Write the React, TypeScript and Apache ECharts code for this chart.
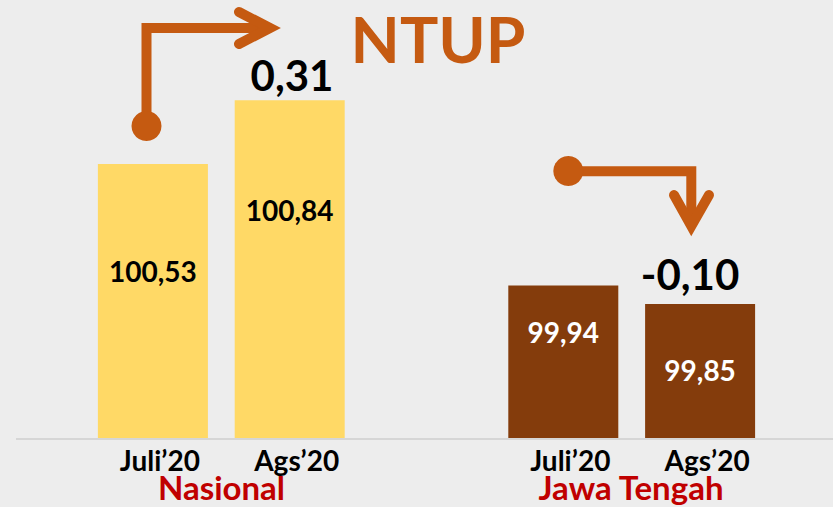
import React, { useEffect, useRef } from "react";
import * as echarts from "echarts";

const categories = ["Juli’20", "Ags’20", "", "Juli’20", "Ags’20"];
const nasional = [100.53, 100.84, "-", "-", "-"];
const jawaTengah = ["-", "-", "-", 99.94, 99.85];
const groupNames = ["Nasional", "Jawa Tengah"];
const changes = [0.31, -0.1];
const title = "NTUP";

const fmt = (v: number, d = 2) => v.toFixed(d).replace(".", ",");

const ORANGE = "#C55A11";
const FONT = "Lato, 'Open Sans', sans-serif";

export default function App() {
  const ref = useRef<HTMLDivElement>(null);
  useEffect(() => {
    if (!ref.current) return;
    const chart = echarts.init(ref.current, undefined, { renderer: "svg" });
    const labelOffsets = [107, 110, 0, 46, 66];
    const mkData = (arr: any[], color: string) =>
      arr.map((v, i) =>
        v === "-"
          ? "-"
          : {
              value: v,
              label: {
                show: true,
                position: ["50%", labelOffsets[i]],
                align: "center",
                verticalAlign: "middle",
                formatter: (p: any) => fmt(p.value),
                color,
                fontSize: 28,
                fontWeight: "bold",
                fontFamily: FONT,
              },
            }
      );
    const option: any = {
      animation: false,
      backgroundColor: "#EDEDED",
      grid: { left: 84.5, right: 64.5, top: 26, bottom: 69 },
      xAxis: {
        type: "category",
        data: categories,
        axisLine: { show: false },
        axisTick: { show: false },
        axisLabel: {
          interval: 0,
          color: "#000",
          fontSize: 28,
          fontWeight: "bold",
          fontFamily: FONT,
          margin: 11,
          lineHeight: 22,
          padding: [0, 0, 0, 14],
        },
      },
      yAxis: {
        type: "value",
        min: 99.2,
        max: 101.2,
        show: false,
        splitLine: { show: false },
      },
      series: [
        {
          type: "bar",
          name: groupNames[0],
          data: mkData(nasional, "#000"),
          barWidth: 110,
          barGap: "-100%",
          itemStyle: { color: "#FFD966" },
        },
        {
          type: "bar",
          name: groupNames[1],
          data: mkData(jawaTengah, "#FFFFFF"),
          barWidth: 110,
          barGap: "-100%",
          itemStyle: { color: "#843C0C" },
        },
      ],
      graphic: [
        {
          type: "line",
          shape: { x1: 16, y1: 439, x2: 833, y2: 439 },
          style: { stroke: "#D6D6D6", lineWidth: 2 },
        },
        {
          type: "text",
          x: 221.5,
          y: 487,
          style: {
            text: groupNames[0],
            fill: "#C00000",
            font: `bold 33px ${FONT}`,
            textAlign: "center",
            textVerticalAlign: "middle",
          },
        },
        {
          type: "text",
          x: 631,
          y: 487,
          style: {
            text: groupNames[1],
            fill: "#C00000",
            font: `bold 33px ${FONT}`,
            textAlign: "center",
            textVerticalAlign: "middle",
          },
        },
        {
          type: "text",
          x: 292,
          y: 75,
          style: {
            text: fmt(changes[0]),
            fill: "#000",
            font: `bold 42px ${FONT}`,
            textAlign: "center",
            textVerticalAlign: "middle",
          },
        },
        {
          type: "text",
          x: 690,
          y: 274,
          style: {
            text: fmt(changes[1]),
            fill: "#000",
            font: `bold 42px ${FONT}`,
            textAlign: "center",
            textVerticalAlign: "middle",
          },
        },
        {
          type: "text",
          x: 438,
          y: 38,
          style: {
            text: title,
            fill: ORANGE,
            font: `bold 64px ${FONT}`,
            textAlign: "center",
            textVerticalAlign: "middle",
          },
        },
        // Arrow up-right (Nasional)
        {
          type: "polyline",
          shape: { points: [[146.5, 126], [146.5, 28], [268, 28]] },
          style: { stroke: ORANGE, lineWidth: 10, fill: "none", lineJoin: "miter" },
        },
        {
          type: "polyline",
          shape: { points: [[239, 12], [270, 28], [239, 44]] },
          style: { stroke: ORANGE, lineWidth: 10, fill: "none", lineCap: "round", lineJoin: "miter" },
        },
        {
          type: "circle",
          shape: { cx: 146.5, cy: 126, r: 15 },
          style: { fill: ORANGE },
        },
        // Arrow right-down (Jawa Tengah)
        {
          type: "polyline",
          shape: { points: [[568, 171.3], [691.3, 171.3], [691.3, 225]] },
          style: { stroke: ORANGE, lineWidth: 10, fill: "none", lineJoin: "miter" },
        },
        {
          type: "polyline",
          shape: { points: [[674, 195], [691.3, 226], [709, 195]] },
          style: { stroke: ORANGE, lineWidth: 10, fill: "none", lineCap: "round", lineJoin: "miter" },
        },
        {
          type: "circle",
          shape: { cx: 568.3, cy: 171, r: 15 },
          style: { fill: ORANGE },
        },
      ],
    };
    chart.setOption(option);
    return () => chart.dispose();
  }, []);
  return (
    <div
      ref={ref}
      style={{ position: "fixed", left: 0, top: 0, width: 833, height: 507, background: "#EDEDED" }}
    />
  );
}
